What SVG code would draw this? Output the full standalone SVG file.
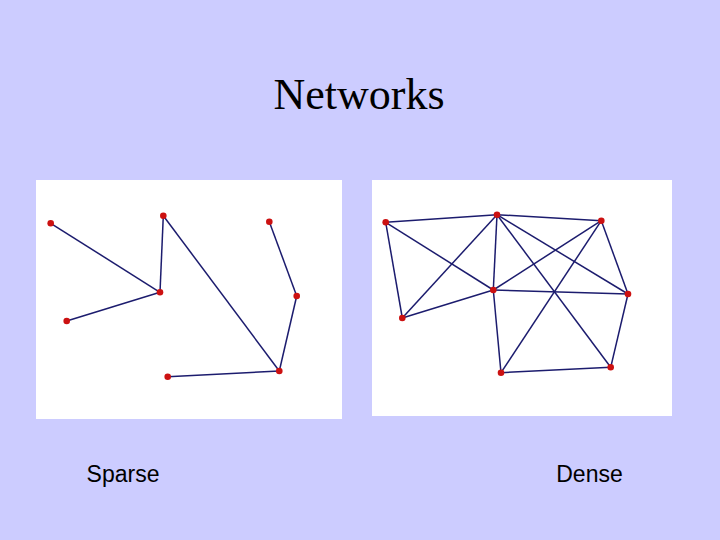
<svg xmlns="http://www.w3.org/2000/svg" width="720" height="540" viewBox="0 0 720 540">
<style>
.edge{stroke:#1c1c6e;stroke-width:1.5;fill:none}
.node{fill:#cc1111}
.panel{fill:#ffffff}
.title{font-family:"Liberation Serif",serif;font-size:44px;fill:#000}
.label{font-family:"Liberation Sans",sans-serif;font-size:23px;fill:#000}
</style>
<rect width="720" height="540" fill="#ccccff"/>
<text class="title" x="359" y="109" text-anchor="middle">Networks</text>
<rect class="panel" x="36" y="180" width="306" height="239"/>
<rect class="panel" x="372" y="180" width="300" height="236"/>
<g id="connectors">
<line class="edge" x1="50.7" y1="223.3" x2="160" y2="292.3"/>
<line class="edge" x1="163.3" y1="215.7" x2="160" y2="292.3"/>
<line class="edge" x1="160" y1="292.3" x2="66.7" y2="321"/>
<line class="edge" x1="163.3" y1="215.7" x2="279.3" y2="371"/>
<line class="edge" x1="269.3" y1="221.7" x2="296.7" y2="296"/>
<line class="edge" x1="296.7" y1="296" x2="279.3" y2="371"/>
<line class="edge" x1="279.3" y1="371" x2="167.7" y2="376.7"/>
<line class="edge" x1="385.7" y1="222.3" x2="497" y2="214.7"/>
<line class="edge" x1="497" y1="214.7" x2="601.3" y2="220.7"/>
<line class="edge" x1="385.7" y1="222.3" x2="402.3" y2="318"/>
<line class="edge" x1="385.7" y1="222.3" x2="493.3" y2="290"/>
<line class="edge" x1="402.3" y1="318" x2="497" y2="214.7"/>
<line class="edge" x1="402.3" y1="318" x2="493.3" y2="290"/>
<line class="edge" x1="497" y1="214.7" x2="493.3" y2="290"/>
<line class="edge" x1="497" y1="214.7" x2="628" y2="294"/>
<line class="edge" x1="497" y1="214.7" x2="610.7" y2="367.3"/>
<line class="edge" x1="601.3" y1="220.7" x2="493.3" y2="290"/>
<line class="edge" x1="601.3" y1="220.7" x2="501" y2="372.7"/>
<line class="edge" x1="601.3" y1="220.7" x2="628" y2="294"/>
<line class="edge" x1="493.3" y1="290" x2="628" y2="294"/>
<line class="edge" x1="493.3" y1="290" x2="501" y2="372.7"/>
<line class="edge" x1="628" y1="294" x2="610.7" y2="367.3"/>
<line class="edge" x1="501" y1="372.7" x2="610.7" y2="367.3"/>
</g>
<g id="sA"><circle class="node" cx="50.7" cy="223.3" r="3.3"/></g>
<g id="sB"><circle class="node" cx="163.3" cy="215.7" r="3.3"/></g>
<g id="sC"><circle class="node" cx="269.3" cy="221.7" r="3.3"/></g>
<g id="sD"><circle class="node" cx="160" cy="292.3" r="3.3"/></g>
<g id="sE"><circle class="node" cx="66.7" cy="321" r="3.3"/></g>
<g id="sF"><circle class="node" cx="296.7" cy="296" r="3.3"/></g>
<g id="sG"><circle class="node" cx="279.3" cy="371" r="3.3"/></g>
<g id="sH"><circle class="node" cx="167.7" cy="376.7" r="3.3"/></g>
<g id="dP"><circle class="node" cx="385.7" cy="222.3" r="3.3"/></g>
<g id="dQ"><circle class="node" cx="497" cy="214.7" r="3.3"/></g>
<g id="dR"><circle class="node" cx="601.3" cy="220.7" r="3.3"/></g>
<g id="dS"><circle class="node" cx="493.3" cy="290" r="3.3"/></g>
<g id="dT"><circle class="node" cx="402.3" cy="318" r="3.3"/></g>
<g id="dU"><circle class="node" cx="628" cy="294" r="3.3"/></g>
<g id="dV"><circle class="node" cx="501" cy="372.7" r="3.3"/></g>
<g id="dW"><circle class="node" cx="610.7" cy="367.3" r="3.3"/></g>
<text class="label" x="123" y="482" text-anchor="middle">Sparse</text>
<text class="label" x="589.5" y="482" text-anchor="middle">Dense</text>
</svg>
